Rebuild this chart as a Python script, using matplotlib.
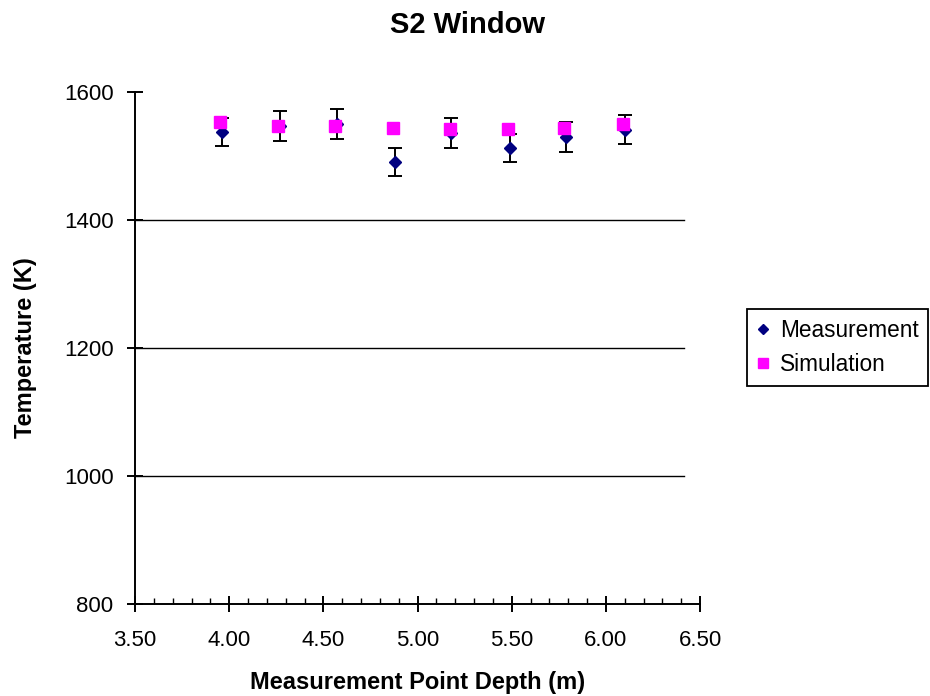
import matplotlib
matplotlib.use("Agg")
import matplotlib.pyplot as plt
from matplotlib.ticker import MultipleLocator, FormatStrFormatter

plt.rcParams['font.family'] = ['Liberation Sans', 'DejaVu Sans']

depth_meas = [3.96, 4.27, 4.57, 4.88, 5.18, 5.49, 5.79, 6.10]
temp_meas = [1537, 1547, 1550, 1491, 1536, 1512, 1530, 1541]
err_meas = [22, 23, 23, 22, 23, 22, 23, 23]
depth_sim = [3.95, 4.26, 4.56, 4.87, 5.17, 5.48, 5.78, 6.09]
temp_sim = [1553, 1547, 1547, 1544, 1542, 1542, 1544, 1550]

title = "S2 Window"
xlabel = "Measurement Point Depth (m)"
ylabel = "Temperature (K)"
series_names = ["Measurement", "Simulation"]

fig = plt.figure(figsize=(9.30, 6.96), dpi=100)
ax = fig.add_axes([135/930, 1-604/696, (700-135)/930, (604-92)/696])

ax.set_xlim(3.5, 6.5)
ax.set_ylim(800, 1600)

# horizontal gridlines (stop short of axis end, as in reference)
for yv in [1000, 1200, 1400]:
    ax.plot([0, (684-135)/(700-135)], [yv, yv], transform=ax.get_yaxis_transform(),
            color='black', lw=1.0, zorder=1)

h1 = ax.errorbar(depth_meas, temp_meas, yerr=err_meas, fmt='D', color='#000080',
                 ms=6.5, ecolor='black', elinewidth=1.4, capsize=5, capthick=1.4,
                 zorder=3, label=series_names[0])
h2, = ax.plot(depth_sim, temp_sim, 's', color='#FF00FF', ms=8.3, zorder=4,
              linestyle='none', label=series_names[1])

for s in ['top', 'right']:
    ax.spines[s].set_visible(False)
for s in ['left', 'bottom']:
    ax.spines[s].set_linewidth(1.4)
    ax.spines[s].set_color('black')

ax.xaxis.set_major_locator(MultipleLocator(0.5))
ax.xaxis.set_minor_locator(MultipleLocator(0.1))
ax.xaxis.set_major_formatter(FormatStrFormatter('%.2f'))
ax.yaxis.set_major_locator(MultipleLocator(200))

ax.tick_params(axis='x', which='major', direction='inout', length=12, width=1.4,
               labelsize=16, pad=13)
ax.tick_params(axis='x', which='minor', direction='in', length=4.5, width=1.0)
ax.tick_params(axis='y', which='major', direction='inout', length=11, width=1.4,
               labelsize=16, pad=10)

ax.set_xlabel(xlabel, fontsize=17, fontweight='bold', labelpad=14)
ax.set_ylabel(ylabel, fontsize=17, fontweight='bold', labelpad=19)
fig.text(0.503, 1-25/696, title, ha='center', va='center', fontsize=21,
         fontweight='bold')

leg = fig.legend(handles=[h1[0], h2], labels=series_names,
                 loc='upper right', bbox_to_anchor=(928/930, 1-309/696),
                 fontsize=16.3, frameon=True, fancybox=False, edgecolor='black',
                 handlelength=0.6, handletextpad=0.45, borderpad=0.42,
                 labelspacing=0.52, borderaxespad=0, markerscale=0.85,
                 framealpha=1)
leg.get_frame().set_linewidth(1.3)

fig.savefig("out.png", dpi=100)
